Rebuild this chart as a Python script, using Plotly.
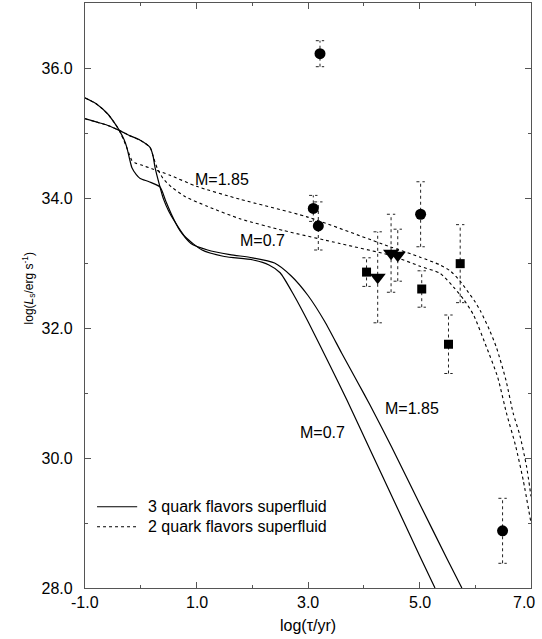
import plotly.graph_objects as go

# ---- cooling curves: log(L_s) vs log(age) ----
# 3 quark flavors superfluid (solid)
s185_x = [-1.0, -0.8, -0.6, -0.45, -0.385, -0.3, -0.25, -0.2, -0.16, -0.08, -0.01, 0.15, 0.345,
          0.45, 0.55, 0.7, 0.9, 1.2, 1.6, 2.0, 2.4, 2.7, 3.0, 3.3, 3.6, 3.9, 4.11, 4.5, 5.0, 5.5, 5.76]
s185_y = [35.54, 35.45, 35.30, 35.13, 35.04, 34.90, 34.78, 34.60, 34.47, 34.36, 34.30, 34.25, 34.17,
          33.95, 33.75, 33.50, 33.30, 33.20, 33.13, 33.08, 33.00, 32.80, 32.50, 32.10, 31.62, 31.15,
          30.82, 30.17, 29.30, 28.44, 28.0]
s07_x = [-1.0, -0.8, -0.6, -0.385, -0.2, -0.01, 0.166, 0.22, 0.256, 0.345, 0.405, 0.5, 0.6, 0.8,
         1.1, 1.5, 2.0, 2.3, 2.5, 2.75, 3.0, 3.35, 3.7, 4.112, 4.5, 5.0, 5.278]
s07_y = [35.22, 35.17, 35.12, 35.04, 34.96, 34.89, 34.78, 34.65, 34.47, 34.17, 33.99, 33.80, 33.65,
         33.40, 33.20, 33.10, 33.05, 32.97, 32.85, 32.50, 32.10, 31.50, 30.89, 30.13, 29.42, 28.50, 28.0]

# 2 quark flavors superfluid (dotted)
d185_x = [-1.0, -0.8, -0.6, -0.45, -0.385, -0.3, -0.2, -0.16, -0.1, 0.0, 0.2, 0.525, 1.0, 1.78,
          2.98, 4.47, 5.01, 5.37, 5.55, 5.72, 5.85, 6.0, 6.1, 6.25, 6.38, 6.55, 6.68, 6.8, 6.92, 7.0]
d185_y = [35.54, 35.45, 35.30, 35.13, 35.04, 34.88, 34.66, 34.58, 34.54, 34.51, 34.45, 34.35, 34.18,
          33.98, 33.71, 33.25, 33.09, 32.97, 32.88, 32.73, 32.58, 32.40, 32.25, 31.98, 31.70, 31.20,
          30.69, 30.35, 29.87, 29.41]
d07_x = [-1.0, -0.8, -0.6, -0.385, -0.2, -0.01, 0.166, 0.226, 0.3, 0.4, 0.55, 0.8, 1.2, 1.78, 2.56,
         3.57, 4.47, 5.01, 5.37, 5.61, 5.8, 5.97, 6.2, 6.4, 6.56, 6.72, 6.86, 7.0]
d07_y = [35.22, 35.17, 35.12, 35.04, 34.96, 34.89, 34.78, 34.63, 34.45, 34.30, 34.17, 34.02, 33.87,
         33.68, 33.50, 33.30, 33.12, 32.95, 32.84, 32.63, 32.43, 32.20, 31.71, 31.25, 30.69, 30.20,
         29.66, 29.0]

# ---- observed pulsars (value, symmetric error) ----
circ_x = [3.215, 3.095, 3.185, 5.02, 6.49]
circ_y = [36.22, 33.84, 33.57, 33.75, 28.88]
circ_e = [0.20, 0.20, 0.37, 0.50, 0.50]
sq_x = [4.05, 5.04, 5.73, 5.52]
sq_y = [32.86, 32.60, 32.99, 31.75]
sq_e = [0.22, 0.28, 0.60, 0.45]
tri_x = [4.25, 4.49, 4.61]
tri_y = [32.78, 33.15, 33.12]
tri_e = [0.70, 0.60, 0.40]

# curve labels
lab_text = ["M=1.85", "M=0.7", "M=1.85", "M=0.7"]
lab_x = [1.46, 2.18, 4.86, 3.26]
lab_y = [34.29, 33.34, 30.76, 30.40]

legend_names = ["3 quark flavors superfluid", "2 quark flavors superfluid"]

x_ticks = [-1.0, 1.0, 3.0, 5.0, 7.0]
y_ticks = [28.0, 30.0, 32.0, 34.0, 36.0]

FONT = "Liberation Sans, Arial, Helvetica, sans-serif"
CAP = 0.075  # half-width of error-bar caps, in log(yr)
AXC = "#555"

fig = go.Figure()

solid = dict(color="black", width=1.2, shape="spline", smoothing=0.6)
dotted = dict(color="black", width=1.1, dash="dot", shape="spline", smoothing=0.6)
for xs, ys, st in [(s185_x, s185_y, solid), (s07_x, s07_y, solid),
                   (d185_x, d185_y, dotted), (d07_x, d07_y, dotted)]:
    fig.add_trace(go.Scatter(x=xs, y=ys, mode="lines", line=st, showlegend=False))

# dotted error bars with caps
ex, ey = [], []
for xs, ys, es in [(circ_x, circ_y, circ_e), (sq_x, sq_y, sq_e), (tri_x, tri_y, tri_e)]:
    for xv, yv, ev in zip(xs, ys, es):
        ex += [xv, xv, None, xv - CAP, xv + CAP, None, xv - CAP, xv + CAP, None]
        ey += [yv - ev, yv + ev, None, yv + ev, yv + ev, None, yv - ev, yv - ev, None]
fig.add_trace(go.Scatter(x=ex, y=ey, mode="lines", line=dict(color="#222", width=1, dash="dot"),
                         showlegend=False, hoverinfo="skip"))

# markers
fig.add_trace(go.Scatter(x=circ_x, y=circ_y, mode="markers", showlegend=False,
                         marker=dict(symbol="circle", size=11, color="black")))
fig.add_trace(go.Scatter(x=sq_x, y=sq_y, mode="markers", showlegend=False,
                         marker=dict(symbol="square", size=9, color="black")))
fig.add_trace(go.Scatter(x=tri_x, y=tri_y, mode="markers", showlegend=False,
                         marker=dict(symbol="triangle-down", size=14, color="black")))

for t, xv, yv in zip(lab_text, lab_x, lab_y):
    fig.add_annotation(x=xv, y=yv, text=t, showarrow=False, font=dict(size=16, color="black", family=FONT))

# legend (line sample + label), placed in the lower-left corner of the plot
for i, (name, dash) in enumerate(zip(legend_names, ["solid", "dot"])):
    ly = 0.1389 - i * 0.0342
    fig.add_shape(type="line", xref="paper", yref="paper", x0=0.027, x1=0.117, y0=ly, y1=ly,
                  line=dict(color="black", width=1.2, dash=dash))
    fig.add_annotation(xref="paper", yref="paper", x=0.137, y=ly, xanchor="left", yanchor="middle",
                       text=name, showarrow=False, font=dict(size=16, color="black", family=FONT))

# x tick labels (the last one is nudged inside the page edge)
for v in x_ticks:
    fig.add_annotation(x=v, xref="x", yref="paper", y=0, yanchor="top", yshift=-4,
                       xshift=-7 if v == x_ticks[-1] else 0, showarrow=False,
                       text=f"{v:.1f}", font=dict(size=16, color="black", family=FONT))

# axis titles
fig.add_annotation(xref="paper", yref="paper", x=0.5, y=-0.064, yanchor="middle", showarrow=False,
                   text="log(τ/yr)", font=dict(size=16, color="black", family=FONT))
fig.add_annotation(xref="paper", yref="paper", x=-0.1256, xanchor="center", y=0.512, yanchor="middle",
                   textangle=-90, showarrow=False,
                   text="log(<i>L</i><sub>s</sub>/erg s<sup>-1</sup>)", font=dict(size=12, color="black", family=FONT))

axis_common = dict(showgrid=False, zeroline=False, showline=True, linecolor=AXC, linewidth=1.3,
                   mirror="ticks", ticks="inside", ticklen=6, tickcolor=AXC, tickwidth=1,
                   tickfont=dict(size=16, color="black", family=FONT), tickformat=".1f")

fig.update_xaxes(range=[-1, 7], tickvals=x_ticks, showticklabels=False,
                 minor=dict(dtick=1, tick0=0, ticks="inside", ticklen=3, tickcolor=AXC), **axis_common)
fig.update_yaxes(range=[28, 37], tickvals=y_ticks, ticklabelstandoff=8,
                 minor=dict(dtick=1, tick0=29, ticks="inside", ticklen=3, tickcolor=AXC), **axis_common)

fig.update_layout(
    width=542, height=639, autosize=False,
    margin=dict(l=85, r=11, t=3, b=51),
    paper_bgcolor="white", plot_bgcolor="white",
    font=dict(family=FONT, size=16, color="black"),
    showlegend=False,
)

fig.write_html("out.html")
